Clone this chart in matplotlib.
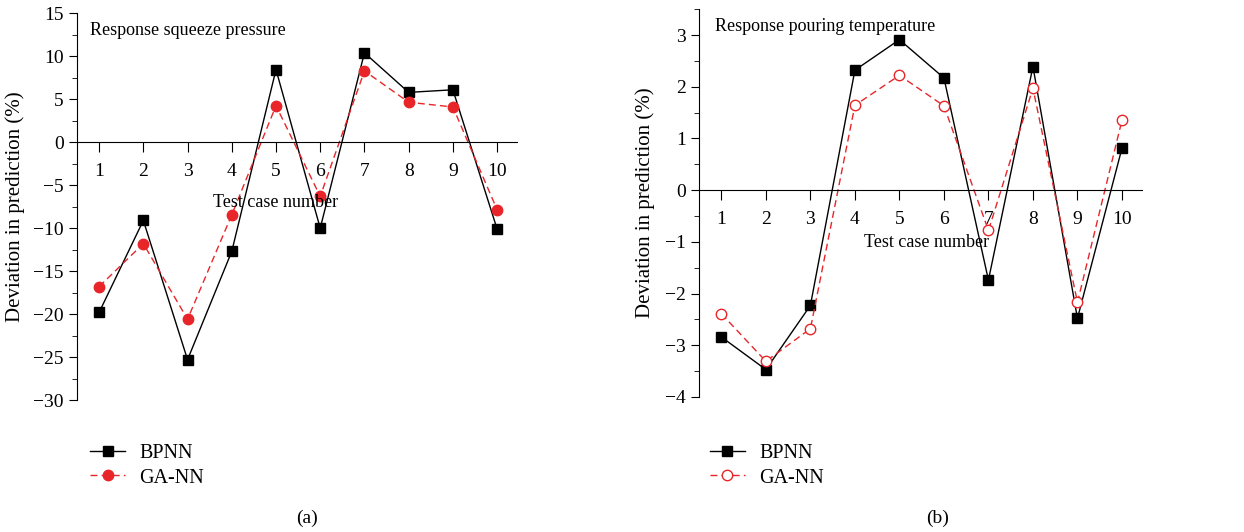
import numpy as np
import matplotlib.pyplot as plt
from matplotlib.ticker import MultipleLocator

plt.rcParams['font.family'] = ['Liberation Serif', 'DejaVu Serif']
plt.rcParams['axes.unicode_minus'] = True

cases = np.arange(1, 11)

# (a) squeeze pressure
bpnn_a = [-19.8, -9.1, -25.3, -12.7, 8.45, -10.0, 10.4, 5.8, 6.1, -10.1]
gann_a = [-16.8, -11.8, -20.6, -8.45, 4.25, -6.3, 8.3, 4.65, 4.1, -7.85]

# (b) pouring temperature
bpnn_b = [-2.84, -3.47, -2.23, 2.32, 2.91, 2.17, -1.74, 2.39, -2.48, 0.81]
gann_b = [-2.39, -3.31, -2.68, 1.64, 2.22, 1.63, -0.78, 1.97, -2.17, 1.35]

RED = '#e8262a'
FS = 13
TICK_FS = 14


def style_axes(ax, ylim, major, minor):
    ax.set_xlim(0.5, 10.45)
    ax.set_ylim(*ylim)
    ax.spines['top'].set_visible(False)
    ax.spines['right'].set_visible(False)
    ax.spines['bottom'].set_position(('data', 0))
    ax.set_xticks(cases)
    ax.yaxis.set_major_locator(MultipleLocator(major))
    ax.yaxis.set_minor_locator(MultipleLocator(minor))
    ax.tick_params(axis='x', direction='out', length=7, pad=8, labelsize=TICK_FS)
    ax.tick_params(axis='y', which='major', direction='out', length=6, labelsize=TICK_FS)
    ax.tick_params(axis='y', which='minor', direction='out', length=3.5)
    ax.set_ylabel('Deviation in prediction (%)', fontsize=15)


fig = plt.figure(figsize=(12.44, 5.32), dpi=100)

ax1 = fig.add_axes([0.0619, 0.248, 0.3537, 0.727])
ax1.plot(cases, bpnn_a, '-s', color='black', lw=1, ms=6.5, label='BPNN')
ax1.plot(cases, gann_a, '--o', color=RED, lw=1, ms=7.5, dashes=(5, 3), label='GA-NN')
style_axes(ax1, (-30, 15), 5, 2.5)
ax1.yaxis.set_label_coords(-0.118, 0.5)
ax1.text(0.03, 0.955, 'Response squeeze pressure', transform=ax1.transAxes,
         fontsize=FS, va='center', ha='left')
ax1.text(5.0, -7.0, 'Test case number', fontsize=FS, ha='center', va='center')

ax2 = fig.add_axes([0.562, 0.2538, 0.356, 0.729])
ax2.plot(cases, bpnn_b, '-s', color='black', lw=1, ms=6.5, label='BPNN')
ax2.plot(cases, gann_b, '--o', color=RED, lw=1, ms=7.5, dashes=(5, 3),
         markerfacecolor='white', markeredgewidth=1, label='GA-NN')
style_axes(ax2, (-4, 3.5), 1, 0.5)
ax2.yaxis.set_label_coords(-0.1, 0.5)
ax2.text(0.035, 0.955, 'Response pouring temperature', transform=ax2.transAxes,
         fontsize=FS, va='center', ha='left')
ax2.text(5.6, -1.02, 'Test case number', fontsize=FS, ha='center', va='center')

for ax, x0 in [(ax1, 0.066), (ax2, 0.564)]:
    fig.legend(*ax.get_legend_handles_labels(), loc='upper left',
               bbox_to_anchor=(x0, 0.18), frameon=False, fontsize=14.5,
               handlelength=1.75, handletextpad=0.7, labelspacing=0.25,
               borderaxespad=0)

fig.text(307 / 1244, 1 - 518 / 532, '(a)', fontsize=14, ha='center', va='center')
fig.text(938 / 1244, 1 - 518 / 532, '(b)', fontsize=14, ha='center', va='center')

fig.savefig('out.png', dpi=100)
